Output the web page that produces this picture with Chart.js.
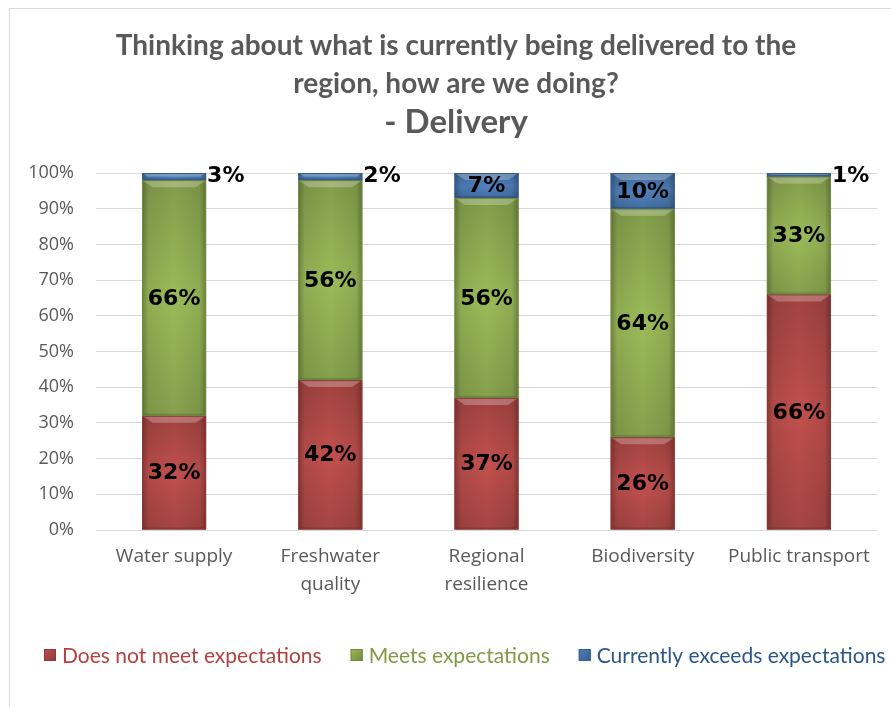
<!DOCTYPE html>
<html>
<head>
<meta charset="utf-8">
<script src="https://cdn.jsdelivr.net/npm/chart.js@4.4.1/dist/chart.umd.min.js"></script>
<style>
  body { margin: 0; background: #fff; overflow: hidden; }
  #frame {
    position: absolute; left: 9px; top: 8px;
    width: 882px; height: 699px;
    border-left: 1px solid #d9d9d9; border-top: 1px solid #d9d9d9;
  }
</style>
</head>
<body>
<div id="frame"><canvas id="chart" width="881" height="698"></canvas></div>
<script>
const categories = ['Water supply', ['Freshwater', 'quality'], ['Regional', 'resilience'], 'Biodiversity', 'Public transport'];
const seriesNames = ['Does not meet expectations', 'Meets expectations', 'Currently exceeds expectations'];
const doesNotMeet = [32, 42, 37, 26, 66];
const meets = [66, 56, 56, 64, 33];
const exceeds = [3, 2, 7, 10, 1];
const yTicks = [0, 10, 20, 30, 40, 50, 60, 70, 80, 90, 100];
const titleLines = ['Thinking about what is currently being delivered to the', 'region, how are we doing?'];
const subTitle = '- Delivery';

const fills = ['#c0504d', '#9bbb59', '#4f81bd'];
const edges = ['#8c3836', '#71893f', '#385d8a'];
const legendText = ['#b3423f', '#7f9c45', '#2c5589'];

// shaded bevel on every bar segment, then the % labels
const barFinish = {
  id: 'barFinish',
  afterDatasetsDraw(chart) {
    const { ctx, chartArea: a } = chart;
    ctx.save();
    ctx.beginPath();
    ctx.rect(a.left, a.top, a.right - a.left, a.bottom - a.top);
    ctx.clip();
    chart.data.datasets.forEach((ds, di) => {
      chart.getDatasetMeta(di).data.forEach(bar => {
        const { x, y, base, width } = bar.getProps(['x', 'y', 'base', 'width'], true);
        const l = x - width / 2, r = x + width / 2;
        const top = Math.max(Math.min(y, base), a.top), bot = Math.max(y, base);
        const h = bot - top;
        if (h <= 0) return;
        const g = ctx.createLinearGradient(l, 0, r, 0);
        g.addColorStop(0, 'rgba(0,0,0,0.3)');
        g.addColorStop(0.1, 'rgba(0,0,0,0.08)');
        g.addColorStop(0.5, 'rgba(0,0,0,0)');
        g.addColorStop(0.9, 'rgba(0,0,0,0.08)');
        g.addColorStop(1, 'rgba(0,0,0,0.3)');
        ctx.fillStyle = g;
        ctx.fillRect(l, top, width, h);
        const v = ctx.createLinearGradient(0, top, 0, bot);
        v.addColorStop(0, 'rgba(0,0,0,0.16)');
        v.addColorStop(0.5, 'rgba(0,0,0,0)');
        v.addColorStop(1, 'rgba(0,0,0,0.14)');
        ctx.fillStyle = v;
        ctx.fillRect(l, top, width, h);
        const d = Math.min(7, h / 2);
        ctx.fillStyle = 'rgba(255,255,255,0.25)';
        ctx.beginPath();
        ctx.moveTo(l, top); ctx.lineTo(r, top);
        ctx.lineTo(r - d * 1.5, top + d); ctx.lineTo(l + d * 1.5, top + d);
        ctx.closePath(); ctx.fill();
        ctx.fillStyle = 'rgba(0,0,0,0.15)';
        ctx.beginPath();
        ctx.moveTo(l, bot); ctx.lineTo(r, bot);
        ctx.lineTo(r - 3, bot - 2); ctx.lineTo(l + 3, bot - 2);
        ctx.closePath(); ctx.fill();
        ctx.strokeStyle = edges[di];
        ctx.lineWidth = 1;
        ctx.strokeRect(l + 0.5, top + 0.5, width - 1, h - 1);
      });
    });
    ctx.restore();

    ctx.save();
    ctx.font = 'bold 22px "DejaVu Sans"';
    ctx.fillStyle = '#000';
    ctx.textBaseline = 'middle';
    chart.data.datasets.forEach((ds, di) => {
      chart.getDatasetMeta(di).data.forEach((bar, i) => {
        const v = ds.data[i];
        const { x, y, base, width } = bar.getProps(['x', 'y', 'base', 'width'], true);
        const label = v + '%';
        if (v >= 5) {
          ctx.textAlign = 'center';
          ctx.fillText(label, x, (Math.max(y, a.top) + base) / 2 + 1);
        } else {
          ctx.textAlign = 'left';
          ctx.fillText(label, x + width / 2 + 1, Math.max(y, a.top) + 3);
        }
      });
    });
    ctx.restore();
  }
};

// heading and single-row legend, placed by hand
const frameText = {
  id: 'frameText',
  afterDraw(chart) {
    const { ctx } = chart;
    ctx.save();
    ctx.fillStyle = '#595959';
    ctx.textAlign = 'center';
    ctx.textBaseline = 'middle';
    ctx.font = 'bold 28px Lato';
    titleLines.forEach((t, i) => ctx.fillText(t, 446, 37 + i * 38));
    ctx.font = 'bold 33px Lato';
    ctx.fillText(subTitle, 446, 113);

    ctx.font = '21px Lato';
    ctx.textAlign = 'left';
    let x = 34;
    const cy = 646;
    seriesNames.forEach((name, i) => {
      const g = ctx.createLinearGradient(x, cy - 6, x + 12, cy + 6);
      g.addColorStop(0, fills[i]);
      g.addColorStop(1, edges[i]);
      ctx.fillStyle = g;
      ctx.fillRect(x, cy - 6, 12, 12);
      ctx.strokeStyle = edges[i];
      ctx.lineWidth = 1;
      ctx.strokeRect(x + 0.5, cy - 5.5, 11, 11);
      ctx.fillStyle = legendText[i];
      ctx.fillText(name, x + 18, cy + 1);
      x += 18 + ctx.measureText(name).width + 29;
    });
    ctx.restore();
  }
};

const datasets = [doesNotMeet, meets, exceeds].map((vals, i) => ({
  label: seriesNames[i],
  data: vals,
  backgroundColor: fills[i],
  borderWidth: 0,
  categoryPercentage: 1,
  barPercentage: 0.41
}));

new Chart(document.getElementById('chart'), {
  type: 'bar',
  data: { labels: categories, datasets },
  options: {
    responsive: false,
    animation: false,
    layout: { padding: { left: 0, right: 14, top: 164, bottom: 100 } },
    plugins: {
      title: { display: false },
      legend: { display: false },
      tooltip: { enabled: false }
    },
    scales: {
      x: {
        stacked: true,
        grid: { display: false },
        border: { display: false },
        afterFit(scale) { scale.height = 77; },
        ticks: {
          color: '#595959',
          font: { family: 'Open Sans', size: 19, lineHeight: 1.47 },
          padding: 5,
          maxRotation: 0,
          autoSkip: false
        }
      },
      y: {
        stacked: true,
        min: 0,
        max: 100,
        afterBuildTicks(scale) { scale.ticks = yTicks.map(v => ({ value: v })); },
        afterFit(scale) { scale.width = 86; },
        grid: { color: '#d9d9d9', drawTicks: false },
        border: { display: false },
        ticks: {
          color: '#595959',
          font: { family: 'Open Sans', size: 18 },
          padding: 22,
          callback: v => v + '%'
        }
      }
    }
  },
  plugins: [barFinish, frameText]
});
</script>
</body>
</html>
